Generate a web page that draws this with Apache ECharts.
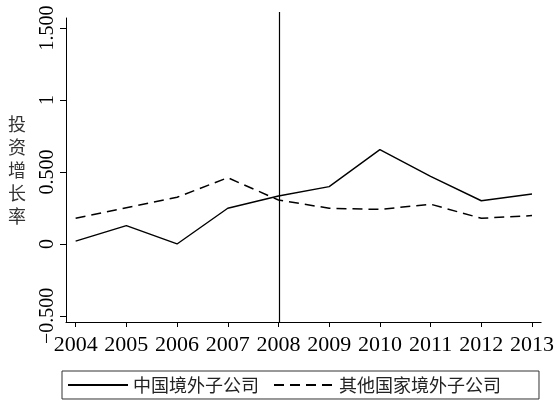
<!DOCTYPE html>
<html>
<head>
<meta charset="utf-8">
<script src="https://cdn.jsdelivr.net/npm/echarts@6/dist/echarts.min.js"></script>
<style>
html,body{margin:0;padding:0;background:#fff;}
#chart{width:557px;height:400px;}
</style>
</head>
<body>
<div id="chart"></div>
<script>
var years = [2004, 2005, 2006, 2007, 2008, 2009, 2010, 2011, 2012, 2013];
var chinaSubs = [0.02, 0.127, 0.0, 0.248, 0.333, 0.398, 0.655, 0.47, 0.30, 0.347];
var otherSubs = [0.178, 0.252, 0.324, 0.46, 0.305, 0.248, 0.24, 0.276, 0.178, 0.197];
var yTicks = [-0.5, 0, 0.5, 1, 1.5];
var yTickLabels = ['\u22120.500', '0', '0.500', '1', '1.500'];
var seriesNames = ['中国境外子公司', '其他国家境外子公司'];
var yAxisTitle = '投资增长率';
var eventYear = 2008;

var FONT = "'Liberation Serif', 'Noto Sans CJK SC', serif";
function pairs(vals) { return years.map(function (y, i) { return [y, vals[i]]; }); }

var chart = echarts.init(document.getElementById('chart'), null, { renderer: 'canvas' });
chart.setOption({
  animation: false,
  backgroundColor: '#fff',
  grid: [
    { left: 66, right: 14, top: 18, bottom: 78, containLabel: false },
    { left: 66, right: 14, top: 12, bottom: 78, containLabel: false }
  ],
  legend: {
    left: 62, top: 371,
    padding: [5, 38, 5, 5],
    itemWidth: 60, itemHeight: 14, itemGap: 14,
    borderColor: '#333', borderWidth: 1,
    data: seriesNames,
    itemStyle: { color: 'transparent', borderColor: 'transparent', borderWidth: 0 },
    textStyle: { fontFamily: "'Noto Sans CJK SC'", fontSize: 18, color: '#222' }
  },
  xAxis: [
    {
      type: 'value', gridIndex: 0, min: 2003.81, max: 2013.18,
      splitLine: { show: false },
      axisLine: { onZero: false, lineStyle: { color: '#000', width: 1 } },
      axisTick: { length: 5, customValues: years, lineStyle: { color: '#000' } },
      axisLabel: {
        customValues: years, margin: 12, color: '#000',
        fontFamily: FONT, fontSize: 22,
        formatter: function (v) { return String(Math.round(v)); }
      }
    },
    {
      type: 'value', gridIndex: 1, min: 2003.81, max: 2013.18, show: false
    }
  ],
  yAxis: [
    {
      type: 'value', gridIndex: 0, min: -0.542, max: 1.569,
      splitLine: { show: false },
      axisLine: { show: true, onZero: false, lineStyle: { color: '#000', width: 1 } },
      axisTick: { show: true, length: 6, customValues: yTicks, lineStyle: { color: '#000' } },
      axisLabel: {
        customValues: yTicks, rotate: 90, margin: 8, color: '#000',
        fontFamily: FONT, fontSize: 20,
        formatter: function (v) {
          var i = yTicks.indexOf(Math.round(v * 1000) / 1000);
          return i >= 0 ? yTickLabels[i] : '';
        }
      },
      name: yAxisTitle.split('').join('\n'),
      nameLocation: 'middle', nameRotate: 0, nameGap: 40,
      nameTextStyle: { fontFamily: "'Noto Sans CJK SC'", fontSize: 18, lineHeight: 23, color: '#333' }
    },
    { type: 'value', gridIndex: 1, min: 0, max: 1, show: false }
  ],
  series: [
    {
      name: seriesNames[0], type: 'line', xAxisIndex: 0, yAxisIndex: 0,
      data: pairs(chinaSubs), showSymbol: false, symbol: 'none',
      lineStyle: { color: '#000', width: 1.4, type: 'solid' },
      itemStyle: { color: '#000' }
    },
    {
      name: seriesNames[1], type: 'line', xAxisIndex: 0, yAxisIndex: 0,
      data: pairs(otherSubs), showSymbol: false, symbol: 'none',
      lineStyle: { color: '#000', width: 1.5, type: [10, 6] },
      itemStyle: { color: '#000' }
    },
    {
      name: 'event', type: 'line', xAxisIndex: 1, yAxisIndex: 1, data: [],
      markLine: {
        silent: true, symbol: 'none', label: { show: false },
        lineStyle: { color: '#000', width: 1.2, type: 'solid' },
        data: [{ xAxis: eventYear }]
      }
    }
  ]
});
</script>
</body>
</html>
